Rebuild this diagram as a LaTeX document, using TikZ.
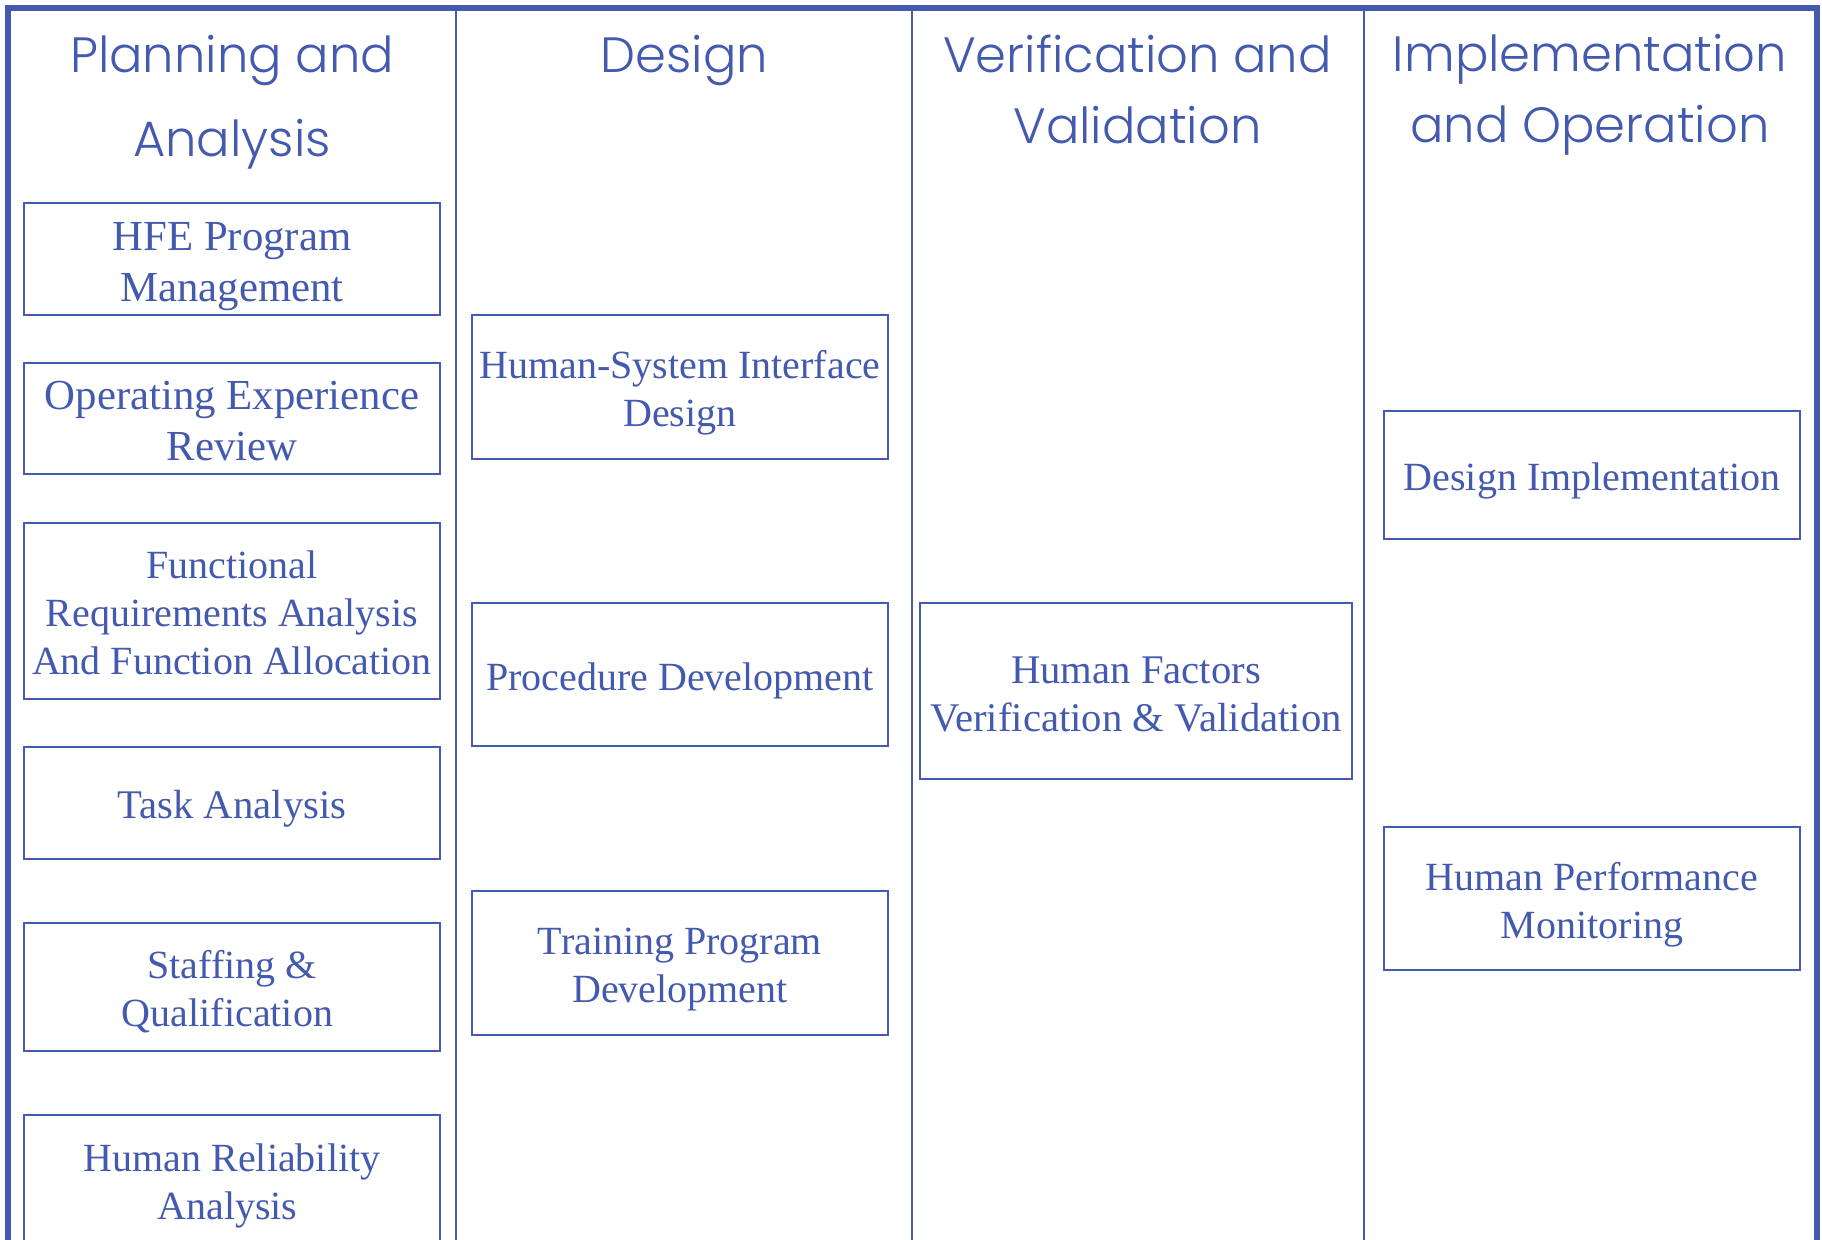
\documentclass[tikz,border=0pt]{standalone}
\usepackage{fontspec}
\setmainfont{Liberation Serif}
\newfontfamily\headfont{Poppins Light}
\definecolor{ink}{HTML}{445AAF}
\tikzset{
  bx/.style={draw=ink,line width=1pt,inner sep=0pt},
  bxt/.style={text=ink,align=center,inner sep=0pt,font=\fontsize{20}{24}\selectfont},
  bxtmid/.style={text=ink,align=center,inner sep=0pt,font=\fontsize{20.35}{24}\selectfont},
  bxtbig/.style={text=ink,align=center,inner sep=0pt,font=\fontsize{21.4}{25.5}\selectfont},
  hd/.style={text=ink,align=center,inner sep=0pt,font=\headfont\fontsize{24.8}{35.5}\selectfont},
  frameline/.style={draw=ink,line width=3pt,line cap=butt},
  divider/.style={draw=ink,line width=1.2pt}
}
\newcommand{\boxat}[8]{% name, x0,y0,x1,y1, dy, text style, text
  \node[bx,minimum width=(#4-#2)*0.5pt,minimum height=(#5-#3)*0.5pt] (#1) at ({(#2+#4)/2},{(#3+#5)/2}) {};
  \node[#7] (#1t) at ([yshift=-#6*0.5pt]#1.center) {#8};}
\begin{document}
\begin{tikzpicture}[x=0.5pt,y=-0.5pt]
\useasboundingbox (0,0) rectangle (1822,1240);
\clip (0,0) rectangle (1822,1240);
\fill[white] (0,0) rectangle (1822,1240);
\coordinate (tl) at (8,8); \coordinate (tr) at (1816.5,8);
\coordinate (bl) at (8,1240); \coordinate (br) at (1816.5,1240);
\coordinate (d1t) at (456,8); \coordinate (d1b) at (456,1240);
\coordinate (d2t) at (912,8); \coordinate (d2b) at (912,1240);
\coordinate (d3t) at (1364,8); \coordinate (d3b) at (1364,1240);
\draw[divider] (d1t) -- (d1b);
\draw[divider] (d2t) -- (d2b);
\draw[divider] (d3t) -- (d3b);
\draw[frameline,line join=miter] (bl) -- (tl) -- (tr) -- (br);
\node[hd,font=\headfont\fontsize{24.8}{42}\selectfont] (h1) at (232,102) {Planning and\\Analysis};
\node[hd] (h2) at (684.5,61) {Design};
\node[hd] (h3) at (1137.5,89) {Verification and\\Validation};
\node[hd] (h4) at (1590,95) {Implementation\\and Operation};
\boxat{a1}{24}{203}{440}{315}{7.5}{bxtbig}{HFE Program\\Management}
\boxat{a2}{24}{363}{440}{474}{3}{bxtbig}{Operating Experience\\Review}
\boxat{a3}{24}{523}{440}{699}{2}{bxt}{Functional\\Requirements Analysis\\And Function Allocation}
\boxat{a4}{24}{747}{440}{859}{6}{bxtmid}{Task Analysis}
\boxat{a5}{24}{923}{440}{1051}{5}{bxt}{Staffing \&\\Qualification\hspace*{4.5pt}}
\boxat{a6}{24}{1115}{440}{1250}{3}{bxt}{Human Reliability\\Analysis\hspace*{4.5pt}}
\boxat{b1}{472}{315}{888}{459}{6}{bxt}{Human-System Interface\\Design}
\boxat{b2}{472}{603}{888}{746}{6}{bxt}{Procedure Development}
\boxat{b3}{472}{891}{888}{1035}{7}{bxt}{Training Program\\Development}
\boxat{c1}{920}{603}{1352}{779}{3}{bxtmid}{Human Factors\\Verification \& Validation}
\boxat{d1}{1384}{411}{1800}{539}{6}{bxt}{Design Implementation}
\boxat{d2}{1384}{827}{1800}{970}{6}{bxt}{Human Performance\\Monitoring}
\end{tikzpicture}
\end{document}
